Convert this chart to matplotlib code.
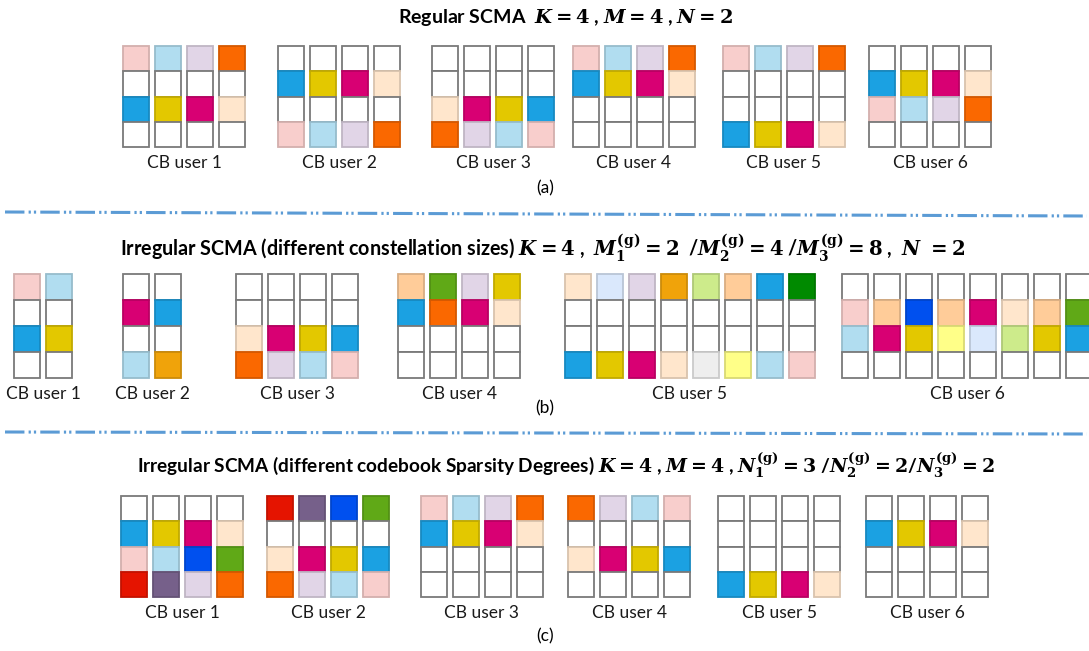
import matplotlib
matplotlib.use("Agg")
import matplotlib.pyplot as plt
from matplotlib.patches import Rectangle
from matplotlib.colors import to_rgb

# draw.io style palette used in the codebook cells
palette = {
    'w': '#FFFFFF', 'pk': '#F8CECC', 'lb': '#B1DDF0', 'lv': '#E1D5E7',
    'or': '#FA6800', 'bl': '#1BA1E2', 'ye': '#E3C800', 'mg': '#D80073',
    'pe': '#FFE6CC', 'am': '#F0A30A', 'gr': '#60A917', 'dg': '#008A00',
    'lg': '#CDEB8B', 'tn': '#FFCC99', 'pb': '#DAE8FC', 'gy': '#EEEEEE',
    'ly': '#FFFF88', 're': '#E51400', 'pu': '#76608A', 'rb': '#0050EF',
}

# each codebook: 4 rows (top -> bottom), one entry per codeword column
regular_cbs = [
    [['pk', 'lb', 'lv', 'or'], ['w', 'w', 'w', 'w'], ['bl', 'ye', 'mg', 'pe'], ['w', 'w', 'w', 'w']],
    [['w', 'w', 'w', 'w'], ['bl', 'ye', 'mg', 'pe'], ['w', 'w', 'w', 'w'], ['pk', 'lb', 'lv', 'or']],
    [['w', 'w', 'w', 'w'], ['w', 'w', 'w', 'w'], ['pe', 'mg', 'ye', 'bl'], ['or', 'lv', 'lb', 'pk']],
    [['pk', 'lb', 'lv', 'or'], ['bl', 'ye', 'mg', 'pe'], ['w', 'w', 'w', 'w'], ['w', 'w', 'w', 'w']],
    [['pk', 'lb', 'lv', 'or'], ['w', 'w', 'w', 'w'], ['w', 'w', 'w', 'w'], ['bl', 'ye', 'mg', 'pe']],
    [['w', 'w', 'w', 'w'], ['bl', 'ye', 'mg', 'pe'], ['pk', 'lb', 'lv', 'or'], ['w', 'w', 'w', 'w']],
]

constellation_cbs = [
    [['pk', 'lb'], ['w', 'w'], ['bl', 'ye'], ['w', 'w']],
    [['w', 'w'], ['mg', 'bl'], ['w', 'w'], ['lb', 'am']],
    [['w', 'w', 'w', 'w'], ['w', 'w', 'w', 'w'], ['pe', 'mg', 'ye', 'bl'], ['or', 'lv', 'lb', 'pk']],
    [['tn', 'gr', 'lv', 'ye'], ['bl', 'or', 'mg', 'pe'], ['w', 'w', 'w', 'w'], ['w', 'w', 'w', 'w']],
    [['pe', 'pb', 'lv', 'am', 'lg', 'tn', 'bl', 'dg'], ['w'] * 8, ['w'] * 8,
     ['bl', 'ye', 'mg', 'pe', 'gy', 'ly', 'lb', 'pk']],
    [['w'] * 8, ['pk', 'tn', 'rb', 'tn', 'mg', 'pe', 'tn', 'gr'],
     ['lb', 'mg', 'ye', 'ly', 'pb', 'lg', 'ye', 'bl'], ['w'] * 8],
]

sparsity_cbs = [
    [['w', 'w', 'w', 'w'], ['bl', 'ye', 'mg', 'pe'], ['pk', 'lb', 'rb', 'gr'], ['re', 'pu', 'lv', 'or']],
    [['re', 'pu', 'rb', 'gr'], ['w', 'w', 'w', 'w'], ['pe', 'mg', 'ye', 'bl'], ['or', 'lv', 'lb', 'pk']],
    [['pk', 'lb', 'lv', 'or'], ['bl', 'ye', 'mg', 'pe'], ['w', 'w', 'w', 'w'], ['w', 'w', 'w', 'w']],
    [['or', 'lv', 'lb', 'pk'], ['w', 'w', 'w', 'w'], ['pe', 'mg', 'ye', 'bl'], ['w', 'w', 'w', 'w']],
    [['w', 'w', 'w', 'w'], ['w', 'w', 'w', 'w'], ['w', 'w', 'w', 'w'], ['bl', 'ye', 'mg', 'pe']],
    [['w', 'w', 'w', 'w'], ['bl', 'ye', 'mg', 'pe'], ['w', 'w', 'w', 'w'], ['w', 'w', 'w', 'w']],
]

user_labels = ['CB user 1', 'CB user 2', 'CB user 3', 'CB user 4', 'CB user 5', 'CB user 6']

title_a = r'Regular SCMA  $K = 4$ , $M = 4$ , $N = 2$'
title_b = (r'Irregular SCMA (different constellation sizes) $K = 4$ ,  '
           r'$M_1^{\mathrm{(g)}} = 2$  /$M_2^{\mathrm{(g)}} = 4$ /$M_3^{\mathrm{(g)}} = 8$ ,  $N\ = 2$')
title_c = (r'Irregular SCMA (different codebook Sparsity Degrees) $K = 4$ , $M = 4$ , '
           r'$N_1^{\mathrm{(g)}} = 3$ /$N_2^{\mathrm{(g)}} = 2$/$N_3^{\mathrm{(g)}} = 2$')

# layout (pixels of the 1089x651 canvas)
W, H = 1089, 651
CELL_W, PITCH = 26, 32
panels = [
    # codebooks, group x starts, top y, cell height, title, title x, y, size, caption, caption y
    (regular_cbs, [123, 278, 432, 573, 723, 869], 46, 25.3, title_a, 566, 17, 14.0, '(a)', 188),
    (constellation_cbs, [14, 123, 236, 398, 565, 842], 274, 26.0, title_b, 543, 248, 14.2, '(b)', 408),
    (sparsity_cbs, [121, 267, 421, 568, 718, 866], 496, 25.3, title_c, 566, 465, 13.7, '(c)', 636),
]
separators = [((5, 1087), (212, 216)), ((5, 1087), (432, 434))]

plt.rcParams['mathtext.fontset'] = 'custom'
plt.rcParams['mathtext.rm'] = 'DejaVu Serif:bold'
plt.rcParams['mathtext.it'] = 'DejaVu Serif:italic:bold'
plt.rcParams['mathtext.bf'] = 'DejaVu Serif:bold'
plt.rcParams['lines.scale_dashes'] = False


def edge_of(key):
    if key == 'w':
        return '#7a7a7a'
    r, g, b = to_rgb(palette[key])
    return (r * 0.85, g * 0.85, b * 0.85)


fig = plt.figure(figsize=(W / 100, H / 100), dpi=100)
ax = fig.add_axes([0, 0, 1, 1])
ax.set_xlim(0, W)
ax.set_ylim(H, 0)
ax.axis('off')

for cbs, xs, top, ch, title, tx, ty, tsize, cap, cy in panels:
    ax.text(tx, ty, title, ha='center', va='center', fontsize=tsize,
            fontweight='bold', family='Lato')
    for cb, x0, label in zip(cbs, xs, user_labels):
        ncol = len(cb[0])
        for r, row in enumerate(cb):
            for c, key in enumerate(row):
                ax.add_patch(Rectangle((x0 + c * PITCH, top + r * ch), CELL_W, ch,
                                       facecolor=palette[key], edgecolor=edge_of(key),
                                       linewidth=1.3))
        xc = x0 + ((ncol - 1) * PITCH + CELL_W) / 2
        ax.text(xc, top + 4 * ch + 16, label, ha='center', va='center',
                fontsize=12.5, family='Lato', color='#1a1a1a')
    ax.text(545, cy, cap, ha='center', va='center', fontsize=12.5, family='Lato')

for xs_, ys_ in separators:
    ax.plot(xs_, ys_, color='#5B9BD5', linewidth=2.2,
            dashes=[14, 3, 1.6, 2.2, 1.6, 3])

fig.savefig('out.png', dpi=100)
